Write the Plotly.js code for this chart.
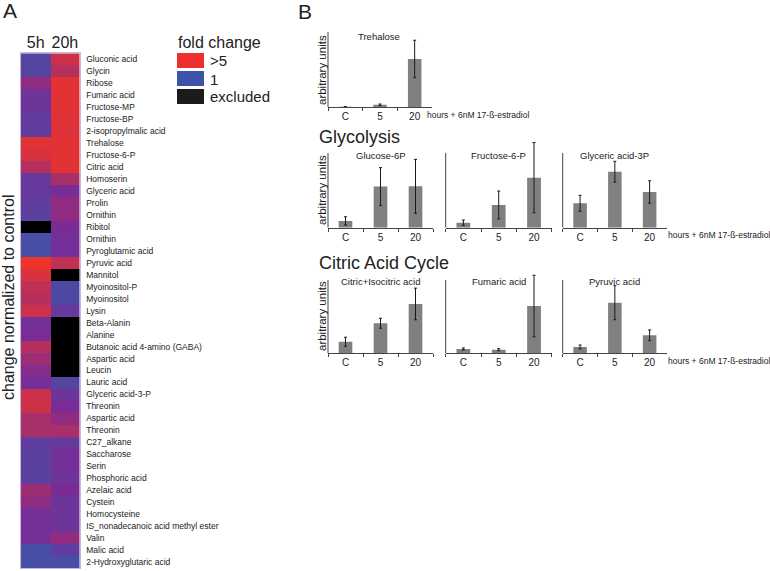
<!DOCTYPE html>
<html><head><meta charset="utf-8">
<script src="https://cdn.plot.ly/plotly-3.0.1.min.js"></script>
<style>html,body{margin:0;padding:0;background:#fff}#chart{width:770px;height:571px}</style>
</head><body><div id="chart"></div>
<script>
// ---------- data ----------
const hours = ['5h', '20h'];
const heatRows = ['Gluconic acid','Glycin','Ribose','Fumaric acid','Fructose-MP','Fructose-BP','2-isopropylmalic acid','Trehalose','Fructose-6-P','Citric acid','Homoserin','Glyceric acid','Prolin','Ornithin','Ribitol','Ornithin','Pyroglutamic acid','Pyruvic acid','Mannitol','Myoinositol-P','Myoinositol','Lysin','Beta-Alanin','Alanine','Butanoic acid 4-amino (GABA)','Aspartic acid','Leucin','Lauric acid','Glyceric acid-3-P','Threonin','Aspartic acid','Threonin','C27_alkane','Saccharose','Serin','Phosphoric acid','Azelaic acid','Cystein','Homocysteine','IS_nonadecanoic acid methyl ester','Valin','Malic acid','2-Hydroxyglutaric acid'];
// fold change normalized to control (1 = blue ... >5 = red); null = excluded
const fold5h  = [1.8,1.8,3.4,2.6,2.6,2.2,2.2,4.8,4.6,4.0,2.4,2.4,2.2,2.0,null,1.4,1.4,5.0,4.6,4.2,4.0,4.4,2.8,3.0,4.0,3.6,3.2,2.8,4.4,4.4,3.8,3.8,2.2,2.0,2.0,2.0,3.6,3.4,2.8,2.8,2.8,1.4,1.4];
const fold20h = [4.4,4.0,4.8,4.8,4.8,4.7,4.7,4.8,4.8,4.8,3.8,3.0,3.4,3.4,3.0,2.8,2.8,4.2,null,1.6,1.6,2.4,null,null,null,null,null,1.8,2.6,3.0,3.4,3.8,2.4,2.8,2.8,2.6,3.0,2.6,2.6,2.6,3.4,2.2,1.4];

const timeCats = ['C', '5', '20'];
const trehalose = [0.3, 3, 64];        const trehaloseErr = [0, 1, 25];
const glucose6P = [9.1, 55, 55.4];     const glucose6PErr = [5.5, 25.4, 36];
const fructose6P = [6.7, 30.4, 67];    const fructose6PErr = [3.6, 18.7, 47];
const glycericAcid3P = [32.7, 75, 47.8]; const glycericAcid3PErr = [10.7, 13.9, 15];
const citricIsocitric = [15.8, 41, 67.3]; const citricIsocitricErr = [6.1, 6.8, 21.6];
const fumaricAcid = [5.9, 4.9, 64.5];  const fumaricAcidErr = [1.4, 1.4, 42];
const pyruvicAcid = [8.6, 69, 24.6];   const pyruvicAcidErr = [2.7, 23.2, 7.3];

// ---------- layout helpers ----------
const W = 770, H = 571;
const X = p => p / W, Y = p => 1 - p / H;
const FONT = 'Liberation Sans, Arial, sans-serif';
const TXT = '#222';

const traces = [];
const layout = {
  width: W, height: H, margin: {l:0, r:0, t:0, b:0},
  paper_bgcolor: '#fff', plot_bgcolor: 'rgba(0,0,0,0)',
  showlegend: false, font: {family: FONT, color: TXT},
  shapes: [], annotations: []
};

// heatmap
const zMain = heatRows.map((_, i) => [fold5h[i], fold20h[i]]);
const zExcl = heatRows.map((_, i) => [fold5h[i] === null ? 1 : null, fold20h[i] === null ? 1 : null]);
const rowIdx = heatRows.map((_, i) => i);
traces.push({type:'heatmap', x: hours, y: rowIdx, z: zMain, zmin:1, zmax:5,
  colorscale: [[0,'#3a56a9'],[0.5,'#7a2c96'],[1,'#ef3328']], showscale:false, hoverinfo:'skip', xaxis:'x', yaxis:'y'});
traces.push({type:'heatmap', x: hours, y: rowIdx, z: zExcl, zmin:0, zmax:1,
  colorscale: [[0,'#000'],[1,'#000']], showscale:false, hoverinfo:'skip', xaxis:'x', yaxis:'y'});
layout.xaxis = {domain:[X(21), X(79.5)], side:'top', type:'category', ticks:'', showgrid:false, zeroline:false,
  showline:true, mirror:true, linecolor:'#c4b6e0', linewidth:1, tickfont:{size:16, color:TXT}, ticklabelstandoff:-2, fixedrange:true, anchor:'y'};
layout.yaxis = {domain:[Y(568), Y(53.3)], side:'right', range:[heatRows.length-0.5, -0.5], tickvals: rowIdx, ticktext: heatRows,
  ticks:'', showgrid:false, zeroline:false, showline:true, mirror:true, linecolor:'#c4b6e0', linewidth:1,
  tickfont:{size:8.5, color:TXT}, ticklabelstandoff:4, fixedrange:true, anchor:'x'};

// bar charts
const charts = [
  {title:'Trehalose', v:trehalose, e:trehaloseErr, x0:328, x1:432, yb:107, h:75, ty:36.7},
  {title:'Glucose-6P', v:glucose6P, e:glucose6PErr, x0:328, x1:433, yb:227.7, h:74.7, ty:156},
  {title:'Fructose-6-P', v:fructose6P, e:fructose6PErr, x0:445.7, x1:551.7, yb:227.7, h:74.7, ty:156},
  {title:'Glyceric acid-3P', v:glycericAcid3P, e:glycericAcid3PErr, x0:562.7, x1:667, yb:227.7, h:74.7, ty:156},
  {title:'Citric+Isocitric acid', v:citricIsocitric, e:citricIsocitricErr, x0:328, x1:433, yb:353.3, h:73.3, ty:281},
  {title:'Fumaric acid', v:fumaricAcid, e:fumaricAcidErr, x0:445.7, x1:551.7, yb:353.3, h:73.3, ty:281},
  {title:'Pyruvic acid', v:pyruvicAcid, e:pyruvicAcidErr, x0:562.7, x1:667, yb:353.3, h:73.3, ty:281}
];
charts.forEach((c, k) => {
  const n = k + 2, xa = 'x' + n, ya = 'y' + n;
  traces.push({type:'bar', x: timeCats, y: c.v, xaxis: xa, yaxis: ya,
    marker:{color:'#808080', line:{width:0}}, width:0.39, cliponaxis:false, hoverinfo:'skip',
    error_y:{type:'data', array:c.e, visible:true, color:'#1a1a1a', thickness:1, width:1.5}});
  layout['xaxis' + n] = {domain:[X(c.x0), X(c.x1)], anchor: ya, type:'category', range:[-0.5, 2.5],
    showline:true, linecolor:'#444', linewidth:1, ticks:'outside', tickson:'boundaries', ticklen:3, tickcolor:'#444',
    showgrid:false, zeroline:false, tickfont:{size:10, color:TXT}, fixedrange:true};
  layout['yaxis' + n] = {domain:[Y(c.yb), Y(c.yb - 1.2 * c.h)], anchor: xa, range:[0, 120],
    showline:false, showgrid:false, zeroline:false, showticklabels:false, ticks:'', fixedrange:true};
  layout.shapes.push({type:'line', xref: xa + ' domain', yref: ya, x0:0, x1:0, y0:0, y1:100, line:{color:'#444', width:1}});
  layout.annotations.push({xref:'paper', yref:'paper', x: X((c.x0 + c.x1) / 2), y: Y(c.ty),
    text: c.title, showarrow:false, xanchor:'center', yanchor:'middle', font:{size:9.5, color:TXT}});
});
// Trehalose title is offset toward left
layout.annotations[0].x = X(378.5);

const ann = (x, y, text, size, opts) => layout.annotations.push(Object.assign({xref:'paper', yref:'paper', x:X(x), y:Y(y),
  text, showarrow:false, font:{size, color:TXT}, xanchor:'left', yanchor:'middle'}, opts || {}));

ann(1, 11, 'A', 21);
ann(296, 12, 'B', 21);
ann(176, 43, 'fold change', 16);
ann(208, 61, '>5', 15);
ann(208, 79, '1', 15);
ann(208, 97, 'excluded', 15);
ann(8, 298, 'change normalized to control', 16, {xanchor:'center', textangle:-90});
ann(317, 137, 'Glycolysis', 18);
ann(317, 263, 'Citric Acid Cycle', 18);
ann(425, 115, 'hours + 6nM 17-ß-estradiol', 8.5);
ann(666, 235, 'hours + 6nM 17-ß-estradiol', 8.5);
ann(666, 361, 'hours + 6nM 17-ß-estradiol', 8.5);
[70, 190, 316].forEach(y => ann(322, y, 'arbitrary units', 11.5, {xanchor:'center', textangle:-90}));

// legend swatches
[['#ee2f2d', 53, 68], ['#3d52a8', 71, 86], ['#1b1b1b', 89, 104]].forEach(([col, t, b]) =>
  layout.shapes.push({type:'rect', xref:'paper', yref:'paper', x0:X(177), x1:X(204), y0:Y(b), y1:Y(t), fillcolor:col, line:{width:0}}));

Plotly.newPlot('chart', traces, layout, {staticPlot:true, displayModeBar:false});
</script></body></html>
